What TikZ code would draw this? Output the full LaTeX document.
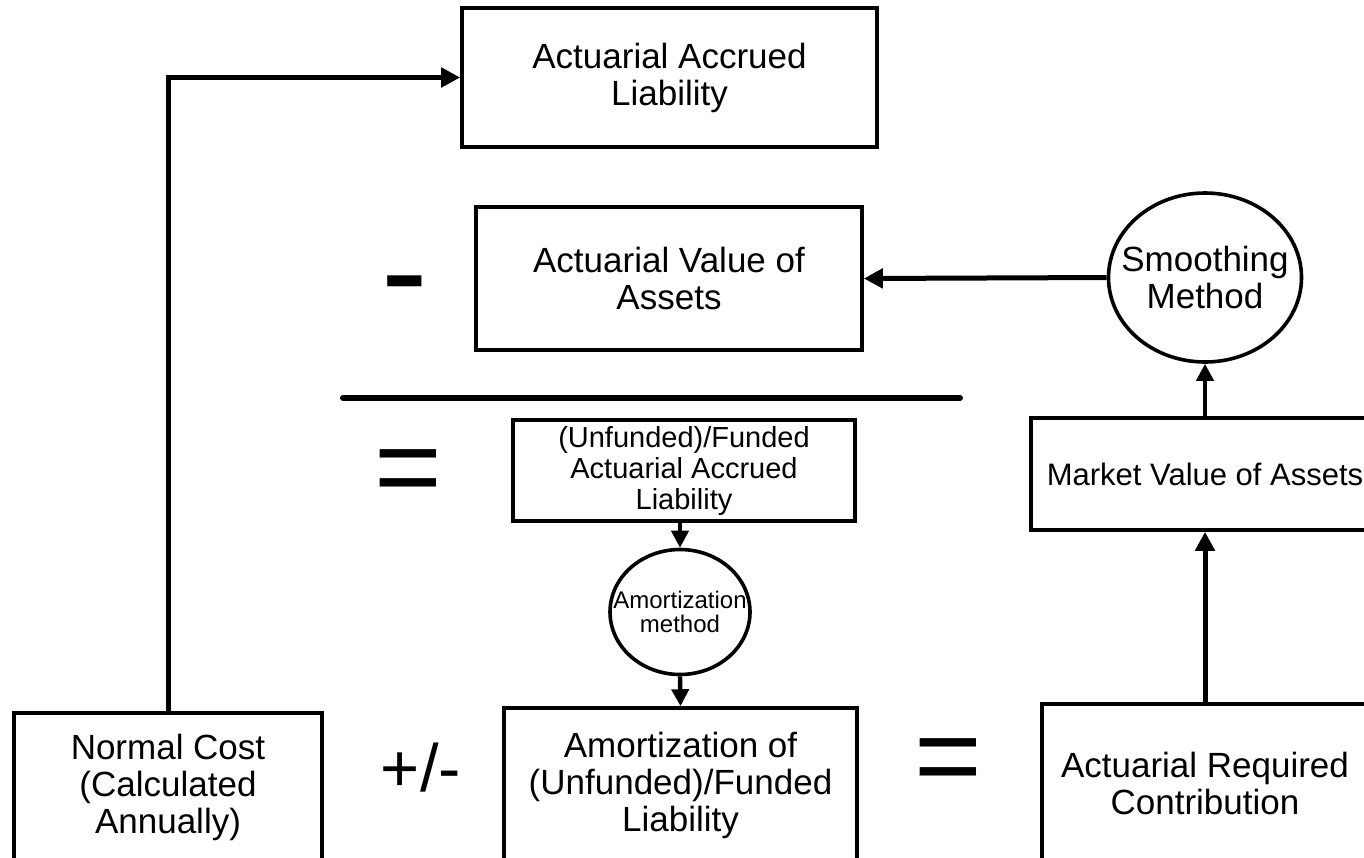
\documentclass[tikz,border=0pt]{standalone}
\usepackage{fontspec}
\setmainfont{Liberation Sans}
\usetikzlibrary{shapes.geometric}
\usetikzlibrary{arrows.meta}
\tikzstyle{box} = [rectangle, 
    draw=black, 
    line width=1.8pt, 
    inner sep=0pt, 
    text centered, 
    align=center, 
    font=\fontsize{17.5}{18.5}\selectfont]
\tikzstyle{method} = [ellipse, 
    draw=black, 
    line width=1.8pt, 
    inner xsep=-10pt, 
    inner ysep=0pt, 
    align=center]
\tikzstyle{sign} = [inner sep=0pt]
\tikzstyle{arrow} = [line width=2.5pt,-{Triangle[length=9.5pt,width=9.5pt]}]
\tikzstyle{thinarrow} = [line width=2.2pt,-{Triangle[length=8.5pt,width=8.5pt]}]
\tikzstyle{rule} = [line width=3pt, line cap=round]

\begin{document}
\begin{tikzpicture}[x=0.5pt, y=-0.5pt]
\useasboundingbox (0,0) rectangle (1364,857);
\clip (0,0) rectangle (1364,857);

\node (aal) [box, minimum width=207.5pt, minimum height=69.5pt] at (669.5,77.5) {Actuarial Accrued\\Liability};
\node (ava) [box, minimum width=193pt, minimum height=71.5pt] at (669,278.5) {Actuarial Value of\\Assets};

\node (funded) [box, minimum width=171pt, minimum height=50.5pt, font=\fontsize{14.5}{15.5}\selectfont] at (684,470.5) {(Unfunded)/Funded\\Actuarial Accrued\\Liability};
\node (amortm) [method, minimum width=70pt, minimum height=62.5pt, font=\fontsize{12}{12}\selectfont] at (680,612) {Amortization\\method};
\node (amort) [box, minimum width=176.5pt, minimum height=77pt] at (680.5,785) {Amortization of\\(Unfunded)/Funded\\Liability};

\node (nc) [box, minimum width=154pt, minimum height=74.5pt] at (168,787.5) {Normal Cost\\(Calculated\\Annually)};
\node (arc) [box, minimum width=163pt, minimum height=79pt] at (1205,783) {Actuarial Required\\Contribution};
\node (mv) [box, minimum width=174pt, minimum height=56pt, font=\fontsize{15.5}{17}\selectfont] at (1205,474) {Market Value of Assets};
\node (smooth) [method, minimum width=96.5pt, minimum height=84.5pt, font=\fontsize{17.5}{18.5}\selectfont] at (1205,277.5) {Smoothing\\Method};

%signs
\node (minus) [sign, font=\fontsize{70}{70}\selectfont] at (405,297) {-};
\node (eqleft) [sign, font=\fontsize{58}{58}\selectfont] at (408,478) {=};
\node (plusminus) [sign, font=\fontsize{33.5}{33.5}\selectfont] at (421,768) {+/-};
\node (eqright) [sign, font=\fontsize{58}{58}\selectfont] at (948,767) {=};

\draw [rule] (343,398) -- (960,398);

\draw [arrow] (nc.north) |- (aal.west);
\draw [arrow] (smooth.west) -- (ava.east);
\draw [thinarrow] (mv.north) -- (smooth.south);
\draw [arrow] (arc.north) -- (mv.south);
\draw [thinarrow] (funded.south -| amortm.north) -- (amortm.north);
\draw [thinarrow] (amortm.south) -- (amort.north);

\end{tikzpicture}
\end{document}
